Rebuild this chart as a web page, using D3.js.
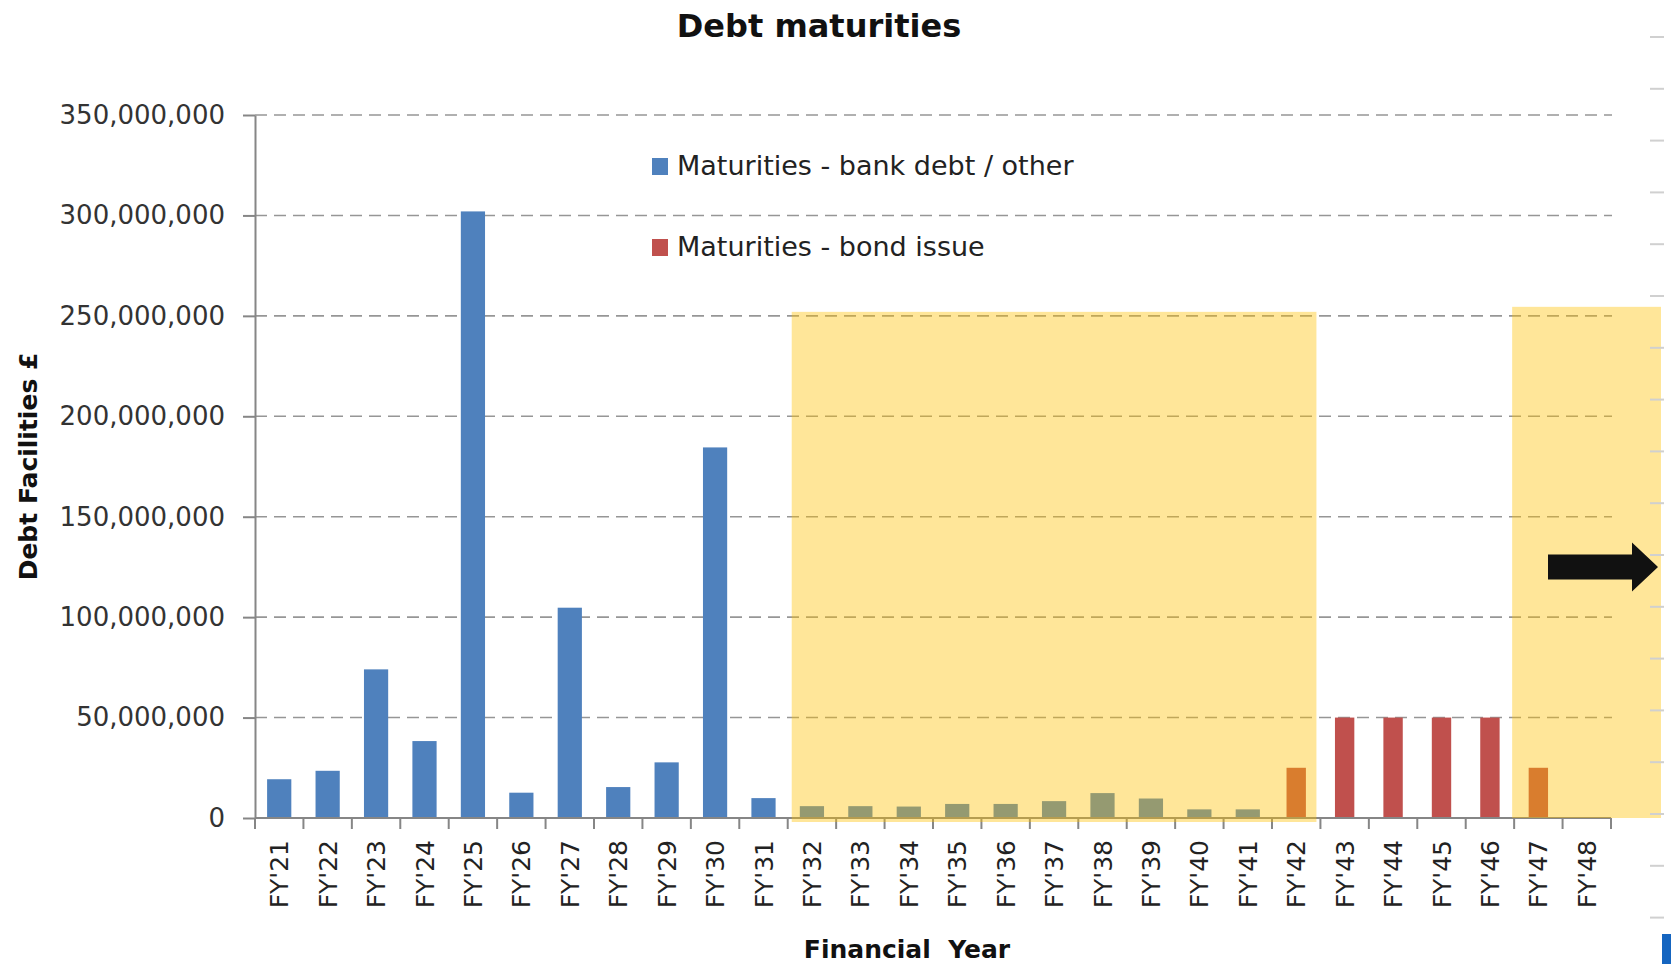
<!DOCTYPE html>
<html><head><meta charset="utf-8">
<script src="https://cdn.jsdelivr.net/npm/d3@7"></script>
<style>
html,body{margin:0;padding:0;background:#fff;}
svg{display:block;}
text{font-family:"DejaVu Sans",sans-serif;}
</style>
</head><body>
<svg id="chart" width="1671" height="964"></svg>
<script>
// ---- data ----
const categories = ["FY'21","FY'22","FY'23","FY'24","FY'25","FY'26","FY'27","FY'28","FY'29","FY'30",
  "FY'31","FY'32","FY'33","FY'34","FY'35","FY'36","FY'37","FY'38","FY'39","FY'40",
  "FY'41","FY'42","FY'43","FY'44","FY'45","FY'46","FY'47","FY'48"];
const bankDebt = [19.3e6, 23.5e6, 74e6, 38.3e6, 302e6, 12.6e6, 104.7e6, 15.4e6, 27.7e6, 184.5e6,
  9.9e6, 5.9e6, 5.9e6, 5.7e6, 7e6, 7e6, 8.4e6, 12.4e6, 9.7e6, 4.3e6,
  4.3e6, 0, 0, 0, 0, 0, 0, 0];
const bondIssue = [0,0,0,0,0,0,0,0,0,0,
  0,0,0,0,0,0,0,0,0,0,
  0, 25e6, 50e6, 50e6, 50e6, 50e6, 25e6, 0];
const yTicks = [0, 50e6, 100e6, 150e6, 200e6, 250e6, 300e6, 350e6];
const seriesNames = ["Maturities - bank debt / other", "Maturities - bond issue"];
const shadedFrom = ["FY'32", "FY'47"];
const shadedTo = ["FY'42", "FY'48"];
const shadedTop = [252e6, 254.5e6];
const arrowLevel = 125e6;
const titleText = "Debt maturities";
const xTitle = "Financial\u00a0\u00a0Year";
const yTitle = "Debt Facilities £";

// ---- layout ----
const svg = d3.select("#chart");
const plotLeft = 255, plotRight = 1611, plotTop = 115, plotBottom = 818;
const blue = "#4F81BD", red = "#C0504D";

const x = d3.scaleBand().domain(categories).range([plotLeft, plotRight])
  .paddingInner(0.5).paddingOuter(0.25);
const step = x.step();
const boundary = c => x(c) - step * 0.25;
const center = c => x(c) + x.bandwidth() / 2;
const y = d3.scaleLinear().domain([0, 350e6]).range([plotBottom, plotTop]);

// gridlines
svg.append("g").selectAll("line").data(yTicks.filter(d => d > 0)).join("line")
  .attr("x1", plotLeft).attr("x2", plotRight + 1)
  .attr("y1", d => y(d)).attr("y2", d => y(d))
  .attr("stroke", "#969696").attr("stroke-width", 1.6)
  .attr("stroke-dasharray", "12,7");

// bank debt bars
svg.append("g").selectAll("rect").data(categories.map((c, i) => ({c, v: bankDebt[i]})).filter(d => d.v > 0))
  .join("rect")
  .attr("x", d => x(d.c)).attr("width", x.bandwidth())
  .attr("y", d => y(d.v)).attr("height", d => y(0) - y(d.v))
  .attr("fill", blue);

// bond bars (narrower)
const bondW = step * 0.4;
svg.append("g").selectAll("rect").data(categories.map((c, i) => ({c, v: bondIssue[i]})).filter(d => d.v > 0))
  .join("rect")
  .attr("x", d => center(d.c) - bondW / 2).attr("width", bondW)
  .attr("y", d => y(d.v)).attr("height", d => y(0) - y(d.v))
  .attr("fill", red);

// y axis
const yAxis = svg.append("g").attr("transform", `translate(${plotLeft},0)`)
  .call(d3.axisLeft(y).tickValues(yTicks).tickFormat(d3.format(",")).tickSize(12).tickSizeOuter(0).tickPadding(18));
yAxis.select(".domain").attr("stroke", "#868686").attr("stroke-width", 2);
yAxis.selectAll(".tick line").attr("stroke", "#868686").attr("stroke-width", 2);
yAxis.selectAll(".tick text").attr("font-size", 26).attr("fill", "#333")
  .attr("font-family", "DejaVu Sans");

// x axis
const xAxis = svg.append("g").attr("transform", `translate(0,${plotBottom})`)
  .call(d3.axisBottom(x).tickSize(0).tickSizeOuter(0));
xAxis.select(".domain").remove();
xAxis.selectAll(".tick text")
  .attr("transform", "rotate(-90)")
  .attr("x", -22).attr("y", 0).attr("dy", "0.36em")
  .attr("text-anchor", "end")
  .attr("font-size", 25).attr("fill", "#222").attr("font-family", "DejaVu Sans");
svg.append("line").attr("x1", plotLeft).attr("x2", plotRight)
  .attr("y1", plotBottom).attr("y2", plotBottom)
  .attr("stroke", "#868686").attr("stroke-width", 2);
const bounds = categories.map(boundary).concat([plotRight]);
svg.append("g").selectAll("line").data(bounds).join("line")
  .attr("x1", d => d).attr("x2", d => d)
  .attr("y1", plotBottom).attr("y2", plotBottom + 11)
  .attr("stroke", "#868686").attr("stroke-width", 2);

// shaded overlays
const shades = svg.append("g");
shadedFrom.forEach((f, i) => {
  const left = boundary(f) + (i === 0 ? 4 : -2);
  const right = i === 0 ? boundary(shadedTo[i]) + step - 4 : plotRight + 50;
  const bottom = y(0) + (i === 0 ? 4 : 0);
  shades.append("rect")
    .attr("x", left).attr("y", y(shadedTop[i]))
    .attr("width", right - left).attr("height", bottom - y(shadedTop[i]))
    .attr("fill", "#FFC000").attr("fill-opacity", 0.4);
});

// arrow
const ay = y(arrowLevel);
const ax0 = plotRight - 63, axh = plotRight + 21, axt = plotRight + 47;
svg.append("path")
  .attr("d", `M${ax0},${ay - 12.5} L${axh},${ay - 12.5} L${axh},${ay - 24.5} L${axt},${ay} L${axh},${ay + 24.5} L${axh},${ay + 12.5} L${ax0},${ay + 12.5} Z`)
  .attr("fill", "#111");

// edge decorations (cropped neighbouring element)
svg.append("g").selectAll("line").data(d3.range(18)).join("line")
  .attr("x1", 1650).attr("x2", 1664)
  .attr("y1", d => 37 + d * 51.8).attr("y2", d => 37 + d * 51.8)
  .attr("stroke", "#d0d0d0").attr("stroke-width", 2);
svg.append("rect").attr("x", 1662).attr("y", 934).attr("width", 9).attr("height", 30).attr("fill", "#1565C0");

// legend
const legend = svg.append("g");
seriesNames.forEach((n, i) => {
  const ly = 158 + i * 81;
  legend.append("rect").attr("x", 652).attr("y", ly).attr("width", 16).attr("height", 17)
    .attr("fill", i === 0 ? blue : red);
  legend.append("text").attr("x", 677).attr("y", ly + 17).attr("font-size", 27).attr("fill", "#222").text(n);
});

// titles
svg.append("text").attr("x", 819).attr("y", 37).attr("text-anchor", "middle")
  .attr("font-size", 32).attr("font-weight", "bold").attr("fill", "#111").text(titleText);
svg.append("text").attr("x", 907).attr("y", 958).attr("text-anchor", "middle")
  .attr("font-size", 25).attr("font-weight", "bold").attr("fill", "#111").text(xTitle);
svg.append("text").attr("transform", `translate(37,${(plotTop + plotBottom) / 2}) rotate(-90)`)
  .attr("text-anchor", "middle")
  .attr("font-size", 25).attr("font-weight", "bold").attr("fill", "#111").text(yTitle);
</script>
</body></html>
